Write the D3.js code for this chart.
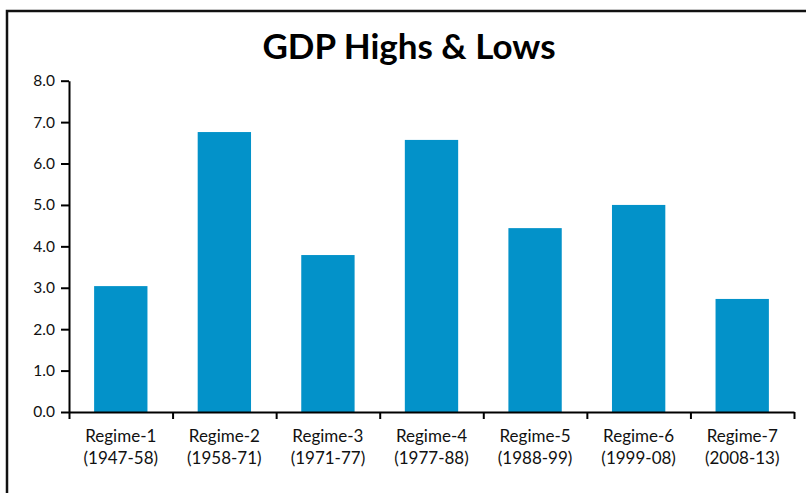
<!DOCTYPE html>
<html>
<head>
<meta charset="utf-8">
<script src="https://cdn.jsdelivr.net/npm/d3@7"></script>
<style>
  body { margin: 0; background: #fff; }
  text { font-family: Lato, "Noto Sans", sans-serif; }
</style>
</head>
<body>
<div id="chart"></div>
<script>
// Data
const regimes = ["Regime-1", "Regime-2", "Regime-3", "Regime-4", "Regime-5", "Regime-6", "Regime-7"];
const periods = ["(1947-58)", "(1958-71)", "(1971-77)", "(1977-88)", "(1988-99)", "(1999-08)", "(2008-13)"];
const gdpHigh = [3.04, 6.76, 3.79, 6.57, 4.44, 5.0, 2.73];
const yTicks = [0, 1, 2, 3, 4, 5, 6, 7, 8];

const W = 806, H = 493;
const margin = {top: 80.7, right: 12, bottom: 81, left: 69},
    width = 794 - margin.left,
    height = 412 - margin.top;

const svg = d3.select("#chart")
    .append("svg")
    .attr("width", W)
    .attr("height", H);

// Outer frame (runs off the right and bottom edges)
svg.append("rect")
    .attr("x", 7)
    .attr("y", 11)
    .attr("width", W + 20)
    .attr("height", H + 20)
    .attr("fill", "none")
    .attr("stroke", "#111")
    .attr("stroke-width", 2.5);

// Title
svg.append("text")
    .attr("x", 409)
    .attr("y", 59)
    .attr("text-anchor", "middle")
    .attr("font-size", 35)
    .attr("font-weight", "bold")
    .attr("fill", "#000")
    .text("GDP Highs & Lows");

const g = svg.append("g")
    .attr("transform", `translate(${margin.left},${margin.top})`);

// Scales
const x = d3.scaleBand()
    .domain(regimes)
    .range([0, width])
    .paddingInner(0.485)
    .paddingOuter(0.2425);

const xEdges = d3.scaleLinear()
    .domain([0, regimes.length])
    .range([0, width]);

const y = d3.scaleLinear()
    .domain([0, 8])
    .range([height, 0]);

// Bars
g.selectAll(".bar")
    .data(gdpHigh)
    .join("rect")
    .attr("class", "bar")
    .attr("x", (d, i) => x(regimes[i]))
    .attr("y", d => y(d))
    .attr("width", x.bandwidth())
    .attr("height", d => y(0) - y(d))
    .attr("fill", "#0392c9");

// Y axis
const yAxis = g.append("g")
    .call(d3.axisLeft(y)
        .tickValues(yTicks)
        .tickFormat(d3.format(".1f"))
        .tickSize(8)
        .tickSizeOuter(0)
        .tickPadding(6));
yAxis.selectAll("path, line").attr("stroke", "#000").attr("stroke-width", 2);
yAxis.selectAll("text")
    .attr("font-size", 15.5)
    .attr("fill", "#111")
    .style("font-family", "Lato, 'Noto Sans', sans-serif");

// X axis: ticks at the category boundaries
const xAxis = g.append("g")
    .attr("transform", `translate(0,${height})`)
    .call(d3.axisBottom(xEdges)
        .tickValues(d3.range(regimes.length + 1))
        .tickFormat("")
        .tickSize(7)
        .tickSizeOuter(0));
xAxis.selectAll("path, line").attr("stroke", "#000").attr("stroke-width", 2);

// Category labels, two lines
const labels = g.append("g")
    .attr("transform", `translate(0,${height})`)
    .selectAll("text")
    .data(regimes)
    .join("text")
    .attr("x", d => x(d) + x.bandwidth() / 2)
    .attr("text-anchor", "middle")
    .attr("font-size", 17)
    .attr("fill", "#111");

labels.append("tspan")
    .attr("x", d => x(d) + x.bandwidth() / 2)
    .attr("y", 30)
    .text(d => d);

labels.append("tspan")
    .attr("x", d => x(d) + x.bandwidth() / 2)
    .attr("y", 52)
    .text((d, i) => periods[i]);
</script>
</body>
</html>
